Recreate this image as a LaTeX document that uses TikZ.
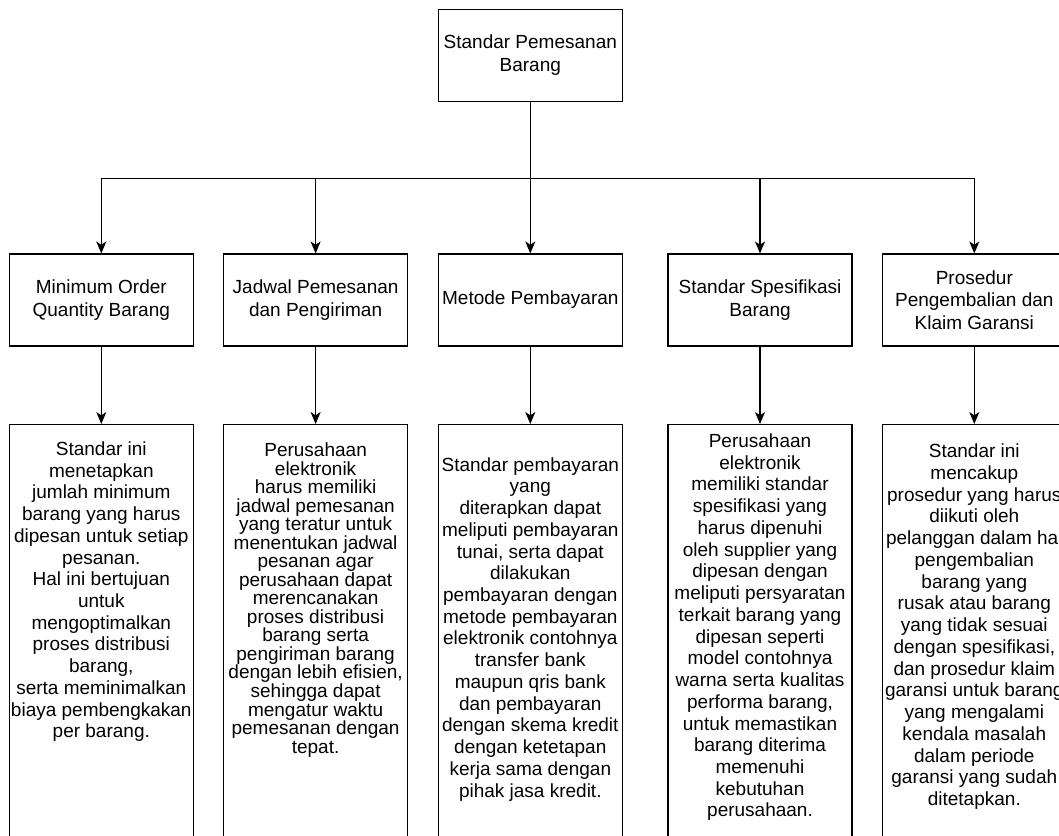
\documentclass[tikz,border=0pt]{standalone}
\usepackage{fontspec}
\setmainfont{Liberation Sans}
\usetikzlibrary{arrows.meta}
\newcommand\tightlines{\fontsize{14.25}{13.9}\selectfont\lineskiplimit=-8pt\relax}

\begin{document}
\begin{tikzpicture}[x=0.75pt, y=-0.75pt,
    box/.style={draw, line width=0.8pt, minimum width=138pt, minimum height=69pt,
        inner sep=0pt, align=center, font=\fontsize{14.25}{17}\selectfont},
    descbox/.style={draw, line width=0.8pt, minimum width=138pt, minimum height=345pt,
        anchor=north},
    desc/.style={inner sep=0pt, align=center, font=\fontsize{14.25}{16.3}\selectfont},
    tightdesc/.style={desc, font=\tightlines},
    link/.style={line width=0.8pt, -{Stealth[length=9pt, width=7.5pt, inset=2.5pt]}},
    ]
\useasboundingbox (0,0) rectangle (1059,835);
\clip (0,0) rectangle (1059,835);

% top
\node[box] (top) at (530.3,55.2) {Standar Pemesanan\\Barang};
\coordinate (hub) at (530.3,178.3);

% second row
\node[box] (m1) at (101.3,300) {Minimum Order\\Quantity Barang};
\node[box] (m2) at (315.6,300) {Jadwal Pemesanan\\dan Pengiriman};
\node[box] (m3) at (530.3,300) {Metode Pembayaran};
\node[box] (m4) at (760,300) {Standar Spesifikasi\\Barang};
\node[box] (m5) at (974.3,300) {Prosedur\\Pengembalian dan\\Klaim Garansi};

% third row
\node[descbox] (d1) at (101.3,424) {};
\node[descbox] (d2) at (315.6,424) {};
\node[descbox] (d3) at (530.3,424) {};
\node[descbox] (d4) at (760,424) {};
\node[descbox] (d5) at (974.3,424) {};

\node[desc] (t1) at (101.3,591.7) {Standar ini\\menetapkan\\jumlah minimum\\barang yang harus\\dipesan untuk setiap\\pesanan.\\Hal ini bertujuan\\untuk\\mengoptimalkan\\proses distribusi\\barang,\\serta meminimalkan\\biaya pembengkakan\\per barang.};
\node[tightdesc] (t2) at (315.6,599.9) {Perusahaan\\elektronik\\harus memiliki\\jadwal pemesanan\\yang teratur untuk\\menentukan jadwal\\pesanan agar\\perusahaan dapat\\merencanakan\\proses distribusi\\barang serta\\pengiriman barang\\dengan lebih efisien,\\sehingga dapat\\mengatur waktu\\pemesanan dengan\\tepat.};
\node[desc] (t3) at (530.3,629.2) {Standar pembayaran\\yang\\diterapkan dapat\\meliputi pembayaran\\tunai, serta dapat\\dilakukan\\pembayaran dengan\\metode pembayaran\\elektronik contohnya\\transfer bank\\maupun qris bank\\dan pembayaran\\dengan skema kredit\\dengan ketetapan\\kerja sama dengan\\pihak jasa kredit.};
\node[desc] (t4) at (760,627.3) {Perusahaan\\elektronik\\memiliki standar\\spesifikasi yang\\harus dipenuhi\\oleh supplier yang\\dipesan dengan\\meliputi persyaratan\\terkait barang yang\\dipesan seperti\\model contohnya\\warna serta kualitas\\performa barang,\\untuk memastikan\\barang diterima\\memenuhi\\kebutuhan\\perusahaan.};
\node[desc] (t5) at (974.3,626.7) {Standar ini\\mencakup\\prosedur yang harus\\diikuti oleh\\pelanggan dalam hal\\pengembalian\\barang yang\\rusak atau barang\\yang tidak sesuai\\dengan spesifikasi,\\dan prosedur klaim\\garansi untuk barang\\yang mengalami\\kendala masalah\\dalam periode\\garansi yang sudah\\ditetapkan.};

% connectors
\draw[line width=0.8pt] (top) -- (hub);
\draw[link] (hub) -- (m3);
\foreach \i in {1,2,4,5}
    \draw[link] (hub) -| (m\i.north);
\foreach \i in {1,...,5}
    \draw[link] (m\i) -- (d\i);

\end{tikzpicture}
\end{document}
